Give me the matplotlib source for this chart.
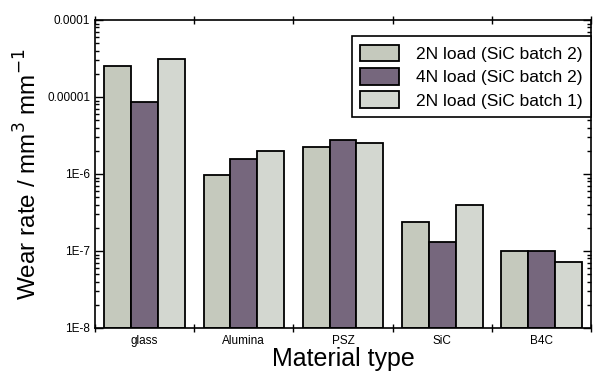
import numpy as np
import matplotlib.pyplot as plt
from matplotlib.ticker import FixedLocator, LogLocator, NullFormatter

plt.rcParams['font.family'] = ['Liberation Sans', 'DejaVu Sans']

materials = ['glass', 'Alumina', 'PSZ', 'SiC', 'B4C']
series_labels = ['2N load (SiC batch 2)', '4N load (SiC batch 2)', '2N load (SiC batch 1)']
load2_batch2 = [2.5e-5, 9.7e-7, 2.2e-6, 2.3e-7, 9.0e-8]
load4_batch2 = [8.6e-6, 1.57e-6, 2.75e-6, 1.2e-7, 9.0e-8]
load2_batch1 = [3.1e-5, 2.0e-6, 2.5e-6, 3.8e-7, 6.3e-8]

colors = ['#c5c9bd', '#76677d', '#d3d7d0']

fig = plt.figure(figsize=(5.93, 3.77), dpi=100)
ax = fig.add_axes([0.160, 0.130, 0.837, 0.817])

x = np.arange(len(materials))
w = 0.27
for i, (vals, lab) in enumerate(zip([load2_batch2, load4_batch2, load2_batch1], series_labels)):
    ax.bar(x + (i - 1) * w, vals, w, bottom=1e-8, color=colors[i], edgecolor='black',
           linewidth=1.3, label=lab)

ax.set_yscale('log')
ax.set_ylim(1e-8, 1e-4)
ax.set_xlim(-0.5, len(materials) - 0.5)

ax.yaxis.set_major_locator(FixedLocator([1e-8, 1e-7, 1e-6, 1e-5, 1e-4]))
ax.set_yticklabels(['1E-8', '1E-7', '1E-6', '0.00001', '0.0001'])
ax.yaxis.set_minor_locator(LogLocator(base=10, subs=np.arange(2, 10)))
ax.yaxis.set_minor_formatter(NullFormatter())

ax.set_xticks(x)
ax.set_xticklabels(materials)
ax.set_xticks(np.arange(-0.5, len(materials), 1.0), minor=True)

ax.tick_params(axis='both', which='both', direction='in', top=True, right=True, width=1)
ax.tick_params(axis='y', which='major', length=6, labelsize=8.5)
ax.tick_params(axis='y', which='minor', length=3)
ax.tick_params(axis='x', which='major', length=0, labelsize=8.5, pad=5)
ax.tick_params(axis='x', which='minor', length=6, direction='inout')
for s in ax.spines.values():
    s.set_linewidth(1.2)

ax.set_xlabel('Material type', fontsize=18, labelpad=0)
ax.set_ylabel('Wear rate / mm$^3$ mm$^{-1}$', fontsize=17.5, labelpad=4)

leg = ax.legend(loc='upper right', bbox_to_anchor=(1.0, 0.948), fontsize=12.5,
                fancybox=False, edgecolor='black', framealpha=1, borderaxespad=0,
                handlelength=2.2, handleheight=1.1, labelspacing=0.35,
                handletextpad=1.0, borderpad=0.5)
leg.get_frame().set_linewidth(1.2)

fig.savefig('out.png', dpi=100)
